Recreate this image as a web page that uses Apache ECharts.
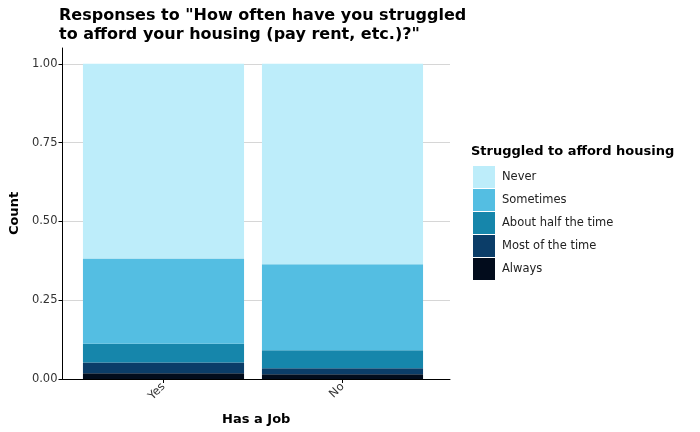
<!DOCTYPE html>
<html>
<head>
<meta charset="utf-8">
<script src="https://cdn.jsdelivr.net/npm/echarts@6/dist/echarts.min.js"></script>
<style>
  html, body { margin: 0; padding: 0; background: #fff; }
  #main { width: 700px; height: 432px; }
</style>
</head>
<body>
<div id="main"></div>
<script>
// data
var jobs = ['Yes', 'No'];
var levels = ['Never', 'Sometimes', 'About half the time', 'Most of the time', 'Always'];
var colors = ['#bdedfa', '#54bee2', '#1686ab', '#0b3d68', '#020c1c'];
var shares = {
  'Always':              [0.018, 0.015],
  'Most of the time':    [0.034, 0.019],
  'About half the time': [0.060, 0.057],
  'Sometimes':           [0.270, 0.273],
  'Never':               [0.618, 0.636]
};
var yTicks = [0, 0.25, 0.5, 0.75, 1];

var font = 'DejaVu Sans';
var chart = echarts.init(document.getElementById('main'));

// stack from bottom (Always) to top (Never)
var series = levels.slice().reverse().map(function(lv){
  var i = levels.indexOf(lv);
  return {
    name: lv,
    type: 'bar',
    stack: 'all',
    xAxisIndex: 1, yAxisIndex: 1,
    barWidth: '90%',
    itemStyle: { color: colors[i] },
    emphasis: { disabled: true },
    data: shares[lv]
  };
});

chart.setOption({
  animation: false,
  textStyle: { fontFamily: font },
  title: {
    text: 'Responses to "How often have you struggled\nto afford your housing (pay rent, etc.)?"',
    left: 54, top: 1,
    textStyle: { fontFamily: font, fontSize: 16, fontWeight: 'bold', color: '#000', lineHeight: 19 }
  },
  legend: {
    data: levels,
    orient: 'vertical',
    left: 473, top: 166, padding: 0,
    itemWidth: 22, itemHeight: 22, itemGap: 1,
    icon: 'rect',
    textStyle: { fontFamily: font, fontSize: 11.5, color: '#222', padding: [0, 0, 0, 2] },
    selectedMode: false
  },
  graphic: [{
    type: 'text', left: 471, top: 145,
    style: { text: 'Struggled to afford housing', font: 'bold 13px "' + font + '"', fill: '#000' }
  }],
  grid: [
    { left: 56, right: 250, top: 48, bottom: 53 },
    { left: 74, right: 268, top: 48, bottom: 53 }
  ],
  xAxis: [{
    type: 'value', gridIndex: 0, min: 0, max: 1,
    name: 'Has a Job', nameLocation: 'middle', nameGap: 34,
    nameTextStyle: { fontFamily: font, fontSize: 13, fontWeight: 'bold', color: '#000' },
    splitLine: { show: false },
    axisLine: { show: true, lineStyle: { color: '#000', width: 1 } },
    axisTick: { show: false },
    axisLabel: { show: false }
  }, {
    type: 'category', gridIndex: 1, data: jobs,
    axisLine: { show: false },
    axisTick: { show: true, alignWithLabel: true, length: 4, lineStyle: { color: '#000' } },
    axisLabel: { rotate: 45, fontSize: 11.5, color: '#333', margin: 6 }
  }],
  yAxis: [{
    type: 'value', gridIndex: 0, min: 0, max: 1.05, interval: 0.25,
    name: 'Count', nameLocation: 'middle', nameGap: 40, nameRotate: 90,
    nameTextStyle: { fontFamily: font, fontSize: 13, fontWeight: 'bold', color: '#000' },
    axisLine: { show: true, lineStyle: { color: '#000', width: 1 } },
    axisTick: { show: true, customValues: yTicks, length: 4, lineStyle: { color: '#000' } },
    axisLabel: {
      customValues: yTicks, fontSize: 11.5, color: '#333', margin: 5,
      formatter: function(v){ return v.toFixed(2); }
    },
    splitLine: { show: true, lineStyle: { color: '#d6d6d6', width: 1 } }
  }, {
    type: 'value', gridIndex: 1, min: 0, max: 1.05, show: false
  }],
  series: series
});
</script>
</body>
</html>
